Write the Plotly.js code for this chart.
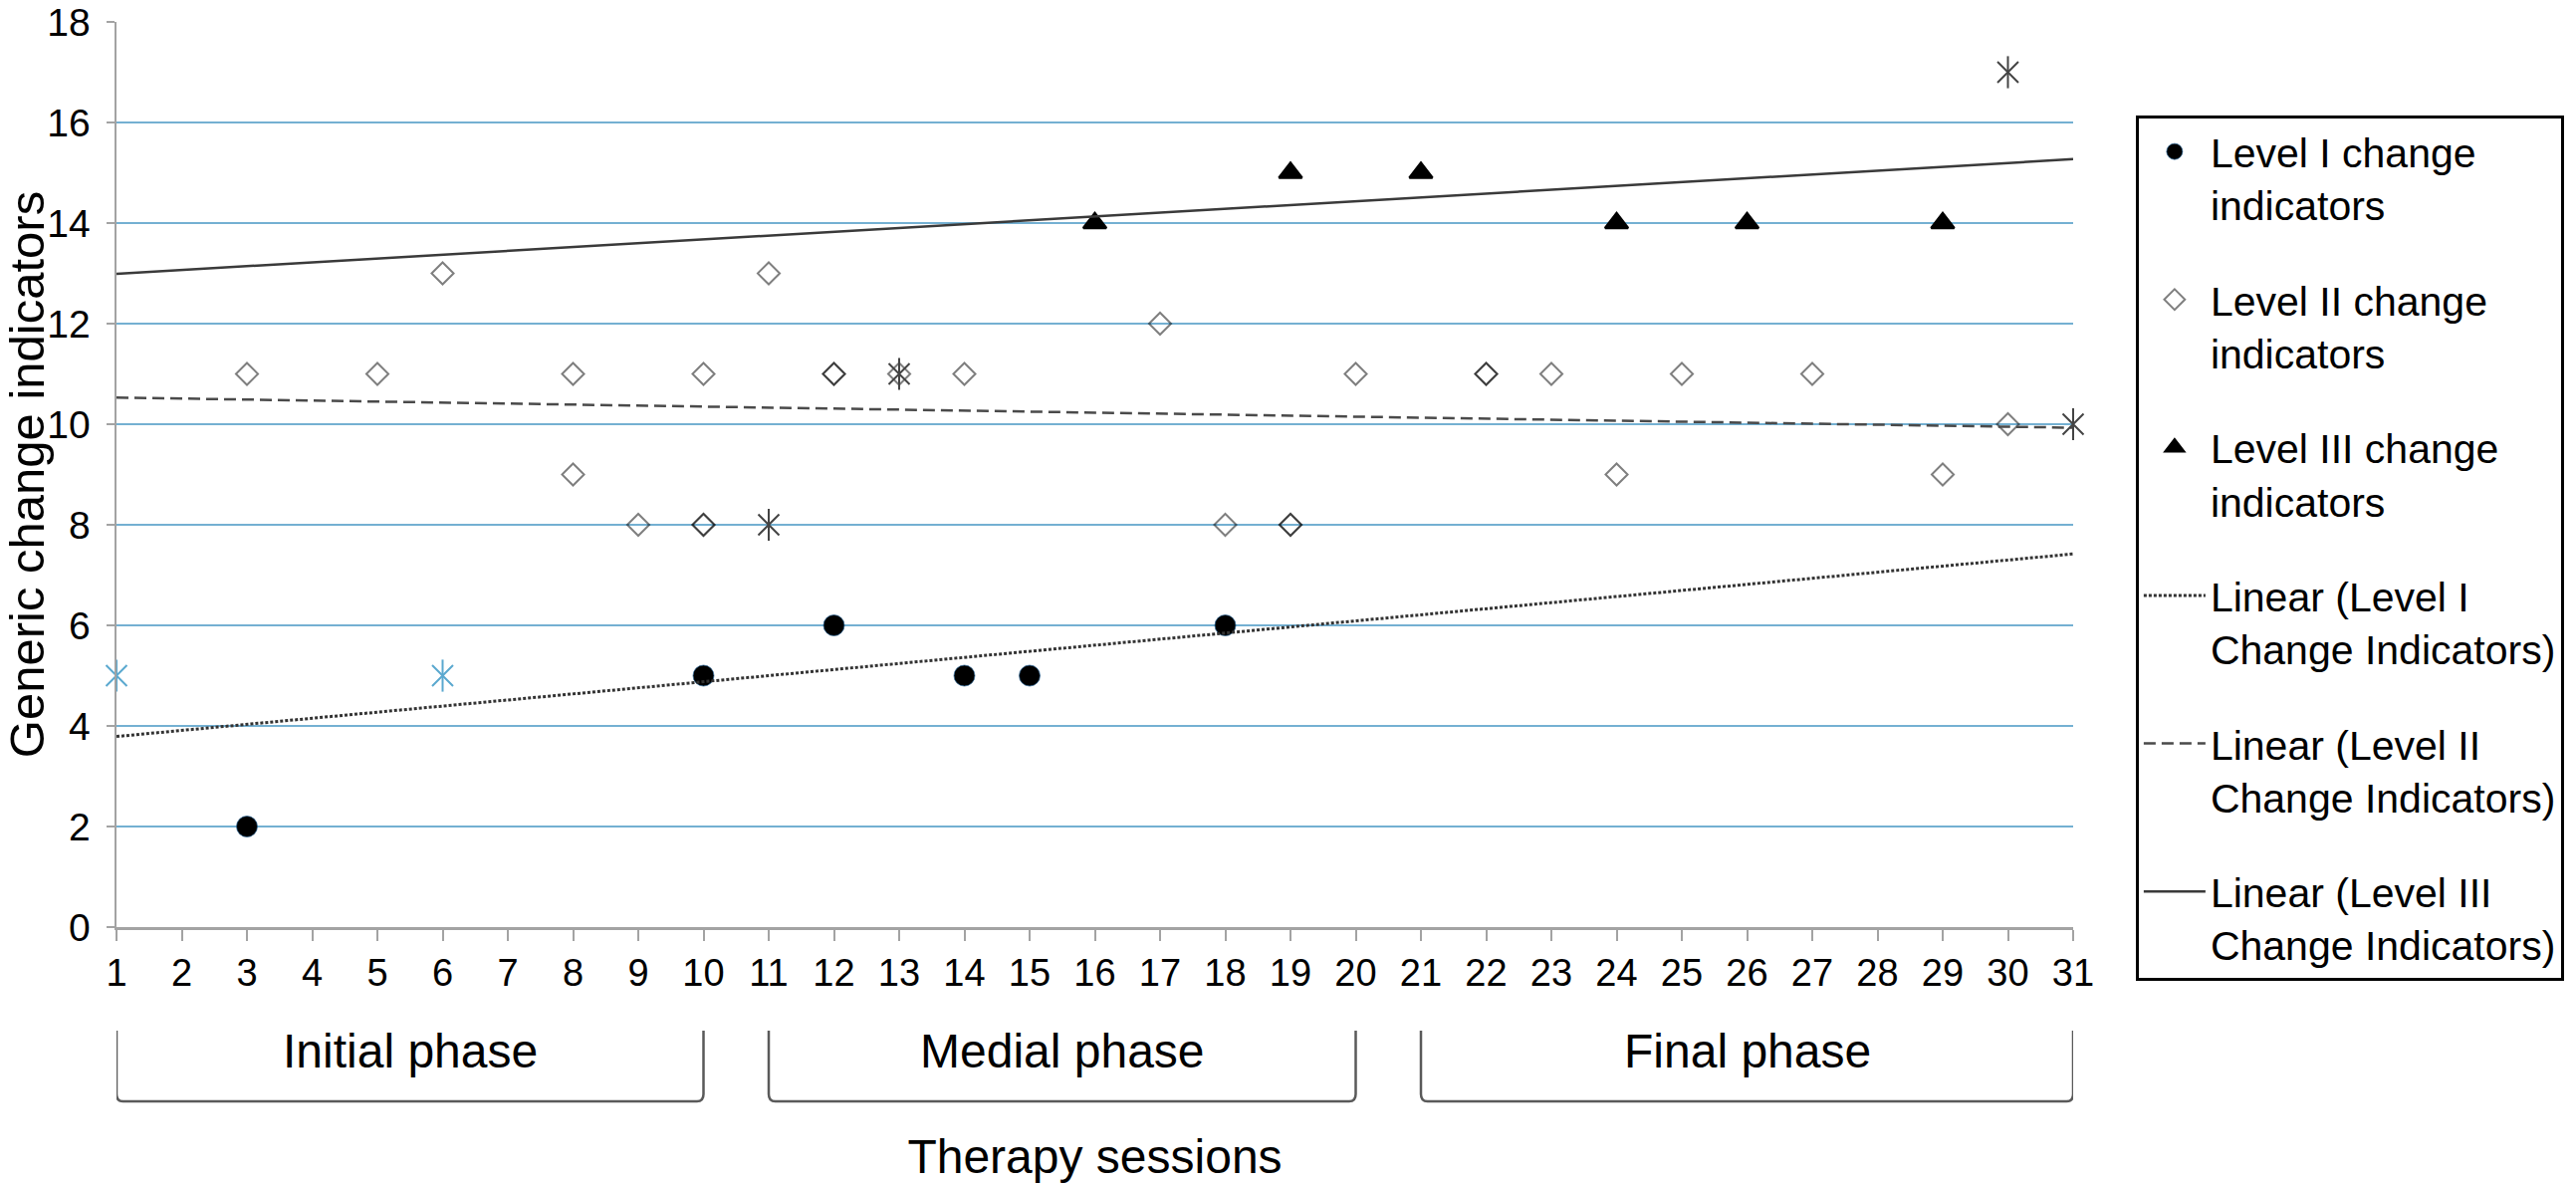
<!DOCTYPE html>
<html>
<head>
<meta charset="utf-8">
<script src="https://cdn.plot.ly/plotly-3.0.1.min.js"></script>
<style>
  html, body { margin: 0; padding: 0; background: #ffffff; }
  #chart { width: 2587px; height: 1188px; }
</style>
</head>
<body>
<div id="chart"></div>
<script>
// ---- data ----
const sessions = [1,2,3,4,5,6,7,8,9,10,11,12,13,14,15,16,17,18,19,20,21,22,23,24,25,26,27,28,29,30,31];
const yTicks = [0,2,4,6,8,10,12,14,16,18];

const level1X = [3,10,12,14,15,18];
const level1Y = [2,5,6,5,5,6];

const level2X = [3,5,6,8,8,9,10,10,10,11,12,12,13,14,17,18,19,19,20,22,22,23,24,25,27,29,30];
const level2Y = [11,11,13,11,9,8,8,8,11,13,11,11,11,11,12,8,8,8,11,11,11,11,9,11,11,9,10];

const level3X = [16,19,21,24,26,29];
const level3Y = [14,15,15,14,14,14];

const blueStarX = [1,6];
const blueStarY = [5,5];
const grayStarX = [11,13,30,31];
const grayStarY = [8,11,17,10];

const trendX = [1,31];
const trend1Y = [3.79,7.42];
const trend2Y = [10.53,9.93];
const trend3Y = [12.99,15.27];

const phaseNames = ['Initial phase','Medial phase','Final phase'];
const phaseStart = [1,11,21];
const phaseEnd = [10,20,31];

// ---- styling ----
const FONT = 'Liberation Sans, Arial, Helvetica, sans-serif';
const GRID = '#74b0d2';
const AXIS = '#a3a3a3';
const BLUESTAR = '#5aa8cf';
const GRAYSTAR = '#444444';

const traces = [
  {x: level1X, y: level1Y, type: 'scatter', mode: 'markers', name: 'Level I change<br>indicators',
   legendgroup: 'g1', cliponaxis: false,
   marker: {symbol: 'circle', size: 21, color: '#000000', line: {color: 'rgba(40,100,150,0.7)', width: 1}}},
  {x: level2X, y: level2Y, type: 'scatter', mode: 'markers', name: 'Level II change<br>indicators',
   legendgroup: 'g2', cliponaxis: false,
   marker: {symbol: 'diamond-open', size: 17, color: 'rgba(0,0,0,0.5)', line: {width: 2}}},
  {x: level3X, y: level3Y, type: 'scatter', mode: 'markers', name: 'Level III change<br>indicators',
   legendgroup: 'g3', cliponaxis: false,
   marker: {symbol: 'triangle-up', size: 20, color: '#000000', line: {color: '#000000', width: 2.5}}},
  {x: trendX, y: trend1Y, type: 'scatter', mode: 'lines', name: 'Linear (Level I<br>Change Indicators)',
   legendgroup: 'g4', line: {color: '#333333', width: 3, dash: '3px,2px'}},
  {x: trendX, y: trend2Y, type: 'scatter', mode: 'lines', name: 'Linear (Level II<br>Change Indicators)',
   legendgroup: 'g5', line: {color: '#4a4a4a', width: 2.5, dash: '12px,6px'}},
  {x: trendX, y: trend3Y, type: 'scatter', mode: 'lines', name: 'Linear (Level III<br>Change Indicators)',
   legendgroup: 'g6', line: {color: '#3a3a3a', width: 2.5}},
  // asterisk-like markers (not in legend): X plus vertical bar
  {x: blueStarX, y: blueStarY, type: 'scatter', mode: 'markers', showlegend: false, cliponaxis: false,
   marker: {symbol: 'x-thin-open', size: 21, color: BLUESTAR, line: {width: 2}}},
  {x: blueStarX, y: blueStarY, type: 'scatter', mode: 'markers', showlegend: false, cliponaxis: false,
   marker: {symbol: 'line-ns-open', size: 23, color: BLUESTAR, line: {width: 2}}},
  {x: grayStarX, y: grayStarY, type: 'scatter', mode: 'markers', showlegend: false, cliponaxis: false,
   marker: {symbol: 'x-thin-open', size: 21, color: GRAYSTAR, line: {width: 2}}},
  {x: grayStarX, y: grayStarY, type: 'scatter', mode: 'markers', showlegend: false, cliponaxis: false,
   marker: {symbol: 'line-ns-open', size: 23, color: GRAYSTAR, line: {width: 2}}}
];

// brackets under the axis for the three phases
const yTop = -0.1144, yBot = -0.1925, rY = 0.008, rX = 0.1;
const shapes = phaseNames.map((n, i) => {
  const a = phaseStart[i], b = phaseEnd[i];
  return {
    type: 'path', xref: 'x', yref: 'paper',
    path: `M${a},${yTop} L${a},${yBot + rY} Q${a},${yBot} ${a + rX},${yBot} L${b - rX},${yBot} Q${b},${yBot} ${b},${yBot + rY} L${b},${yTop}`,
    line: {color: '#5a5a5a', width: 2.5}
  };
});
const annotations = phaseNames.map((n, i) => ({
  text: n, xref: 'x', yref: 'paper', x: (phaseStart[i] + phaseEnd[i]) / 2, y: -0.1375,
  xanchor: 'center', yanchor: 'middle', showarrow: false,
  font: {family: FONT, size: 48, color: '#000000'}
}));

const layout = {
  width: 2587, height: 1188,
  margin: {l: 117, r: 502, t: 22, b: 257},
  paper_bgcolor: '#ffffff', plot_bgcolor: '#ffffff',
  font: {family: FONT, color: '#000000'},
  showlegend: true,
  legend: {
    x: 1.032, xanchor: 'left', y: 0.8966, yanchor: 'top',
    bordercolor: '#000000', borderwidth: 3, bgcolor: '#ffffff',
    font: {family: FONT, size: 41, color: '#000000'},
    valign: 'top', tracegroupgap: 39, itemwidth: 62, traceorder: 'grouped'
  },
  xaxis: {
    range: [1, 31], tickmode: 'array', tickvals: sessions, ticktext: sessions.map(String),
    showgrid: false, zeroline: false,
    showline: true, linecolor: AXIS, linewidth: 2.5,
    ticks: 'outside', ticklen: 11, tickwidth: 2, tickcolor: AXIS,
    tickfont: {family: FONT, size: 38, color: '#000000'},
    title: {text: 'Therapy sessions', font: {family: FONT, size: 48, color: '#000000'}, standoff: 148},
    fixedrange: true
  },
  yaxis: {
    range: [0, 18], tickmode: 'array', tickvals: yTicks, ticktext: yTicks.map(String),
    showgrid: true, gridcolor: GRID, gridwidth: 2.5, zeroline: false,
    showline: true, linecolor: AXIS, linewidth: 2.5,
    ticks: 'outside', ticklen: 8, tickwidth: 2, tickcolor: AXIS,
    ticklabelstandoff: 8,
    tickfont: {family: FONT, size: 39, color: '#000000'},
    title: {text: 'Generic change indicators', font: {family: FONT, size: 49, color: '#000000'}, standoff: 4},
    fixedrange: true
  },
  shapes: shapes,
  annotations: annotations
};

Plotly.newPlot('chart', traces, layout, {displayModeBar: false, staticPlot: true});
</script>
</body>
</html>
